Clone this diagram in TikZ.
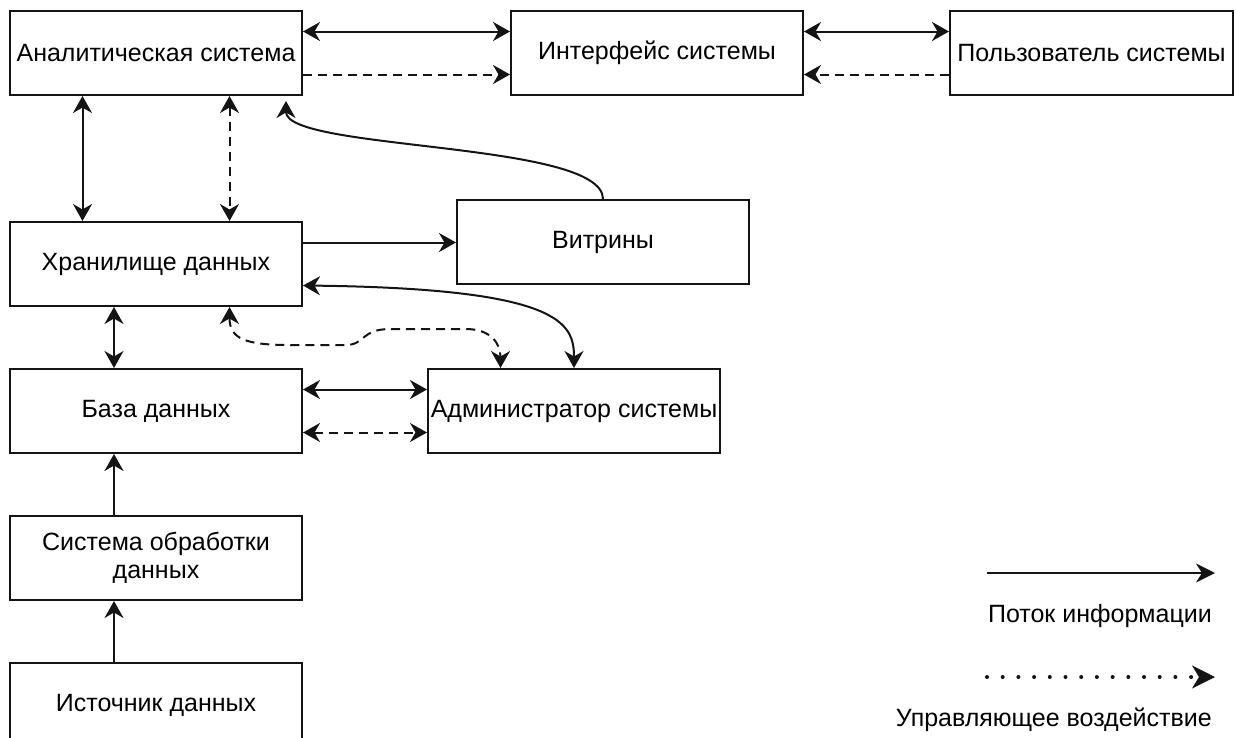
\documentclass[tikz,border=0pt]{standalone}
\usepackage{fontspec}
\setmainfont{Liberation Sans}
\usetikzlibrary{arrows.meta,positioning,calc}
\definecolor{linegray}{HTML}{141414}

\begin{document}
\begin{tikzpicture}[x=1pt, y=-1pt,
  >={Stealth[length=17pt, width=19pt, inset=5.5pt]},
  block/.style={draw=linegray, line width=2pt, minimum width=292pt, minimum height=84pt, align=center, inner sep=2pt, font=\fontsize{25}{28}\selectfont},
  arr/.style={->, linegray, line width=2pt},
  biarr/.style={<->, linegray, line width=2pt},
  ctrl/.style={->, linegray, line width=2pt, dash pattern=on 9pt off 6pt},
  bictrl/.style={<->, linegray, line width=2pt, dash pattern=on 9pt off 6pt},
  legtext/.style={anchor=east, inner sep=0pt, font=\fontsize{25}{28}\selectfont}
]
  \useasboundingbox (0,0) rectangle (1236,737);

  \node[block] (analytic) at (156,53) {Аналитическая система};
  \node[block, right=207pt of analytic] (iface) {Интерфейс системы};
  \node[block, right=145pt of iface, minimum width=283pt] (user) {Пользователь системы};

  \node[block, below=125pt of analytic] (storage) {Хранилище данных};
  \node[block, right=153pt of storage, yshift=22pt] (marts) {Витрины};
  \node[block, below=61pt of storage] (db) {База данных};
  \node[block, right=124pt of db] (admin) {Администратор системы};
  \node[block, below=61pt of db] (proc) {Система обработки\\данных};
  \node[block, below=61pt of proc] (source) {Источник данных};

  % attachment points
  \coordinate (a1) at ($(analytic.south west)!0.25!(analytic.south east)$);
  \coordinate (a2) at ($(analytic.south west)!0.75!(analytic.south east)$);
  \coordinate (spine) at ($(storage.south west)+(105,0)$);
  \coordinate (s1) at ($(storage.north east)!0.25!(storage.south east)$);
  \coordinate (s2) at ($(storage.north east)!0.75!(storage.south east)$);
  \coordinate (s3) at ($(storage.south west)!0.75!(storage.south east)$);

  % top row
  \draw[biarr] ($(analytic.north east)!0.25!(analytic.south east)$) -- ($(iface.north west)!0.25!(iface.south west)$);
  \draw[ctrl] ($(analytic.north east)!0.75!(analytic.south east)$) -- ($(iface.north west)!0.75!(iface.south west)$);
  \draw[biarr] ($(iface.north east)!0.25!(iface.south east)$) -- ($(user.north west)!0.25!(user.south west)$);
  \draw[ctrl] ($(user.north west)!0.75!(user.south west)$) -- ($(iface.north east)!0.75!(iface.south east)$);

  % analytic <-> storage
  \draw[biarr] (a1) -- (a1 |- storage.north);
  \draw[bictrl] (a2) -- (a2 |- storage.north);
  \draw[arr] (marts.north) .. controls ($(marts.north)+(0,-58)$) and ($(analytic.south east)+(-17,55)$) .. ($(analytic.south east)+(-17,5)$);

  % storage links
  \draw[arr] (s1) -- (s1 -| marts.west);
  \draw[biarr] (s2) .. controls ($(s2)+(258,3)$) and ($(admin.north)+(0,-45)$) .. (admin.north);
  \draw[bictrl] (s3) .. controls ($(s3)+(0,32)$) and ($(s3)+(16,38)$) .. ($(s3)+(61,38)$)
    -- ($(s3)+(116,38)$) .. controls ($(s3)+(136,38)$) and ($(s3)+(131,22)$) .. ($(s3)+(161,22)$)
    -- ($(s3)+(236,22)$) .. controls ($(s3)+(261,22)$) and ($(admin.north west)!0.25!(admin.north east)+(0,-25)$) .. ($(admin.north west)!0.25!(admin.north east)$);
  \draw[biarr] (spine) -- (spine |- db.north);

  % db, admin and the feed
  \draw[biarr] ($(db.north east)!0.25!(db.south east)$) -- ($(admin.north west)!0.25!(admin.south west)$);
  \draw[bictrl] ($(db.north east)!0.75!(db.south east)$) -- ($(admin.north west)!0.75!(admin.south west)$);
  \draw[arr] (spine |- proc.north) -- (spine |- db.south);
  \draw[arr] (spine |- source.north) -- (spine |- proc.south);

  % legend
  \coordinate (flowstart) at (987,573);
  \coordinate (flowend) at (1215,573);
  \coordinate (ctrlstart) at (987,677);
  \coordinate (ctrlend) at (1215,677);
  \draw[-{Stealth[length=19pt, width=19pt, inset=6pt]}, linegray, line width=2pt] (flowstart) -- (flowend);
  \node[legtext] (flowlabel) at (1212,616) {Поток информации};
  \draw[linegray, line width=4pt, line cap=round, dash pattern=on 0pt off 15.7pt] (ctrlstart) -- ($(ctrlend)+(-20,0)$);
  \draw[-{Stealth[length=23pt, width=23pt, inset=7pt]}, linegray, line width=1pt] ($(ctrlend)+(-8,0)$) -- (ctrlend);
  \node[legtext] (ctrllabel) at (1212,720) {Управляющее воздействие};
\end{tikzpicture}
\end{document}
